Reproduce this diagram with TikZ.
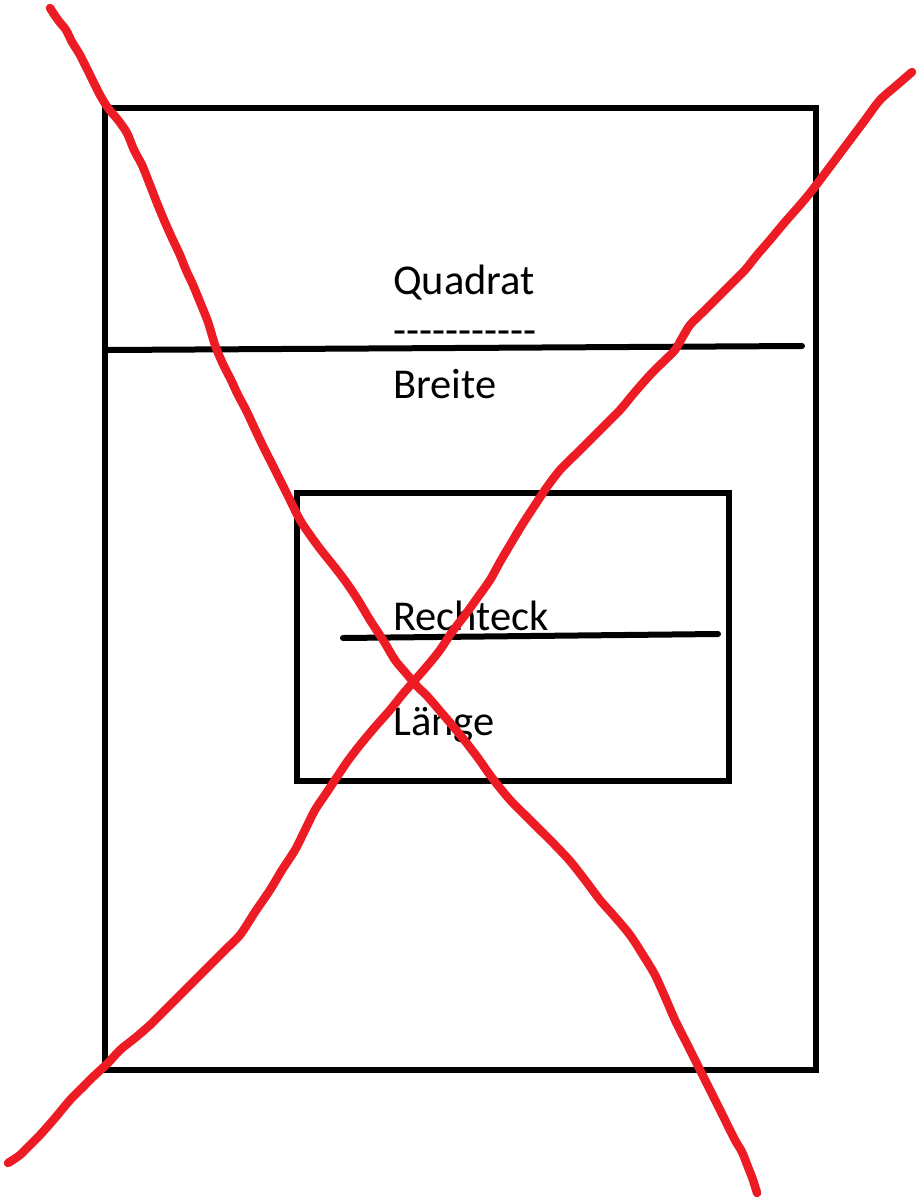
\documentclass[tikz,border=0pt]{standalone}
\usepackage{fontspec}
\setmainfont{Carlito}
\definecolor{pred}{HTML}{ED1C24}
\tikzset{
  blk/.style={line width=6pt, draw=black, line cap=round, line join=miter},
  redx/.style={line width=8.5pt, draw=pred, line cap=round, line join=round},
  lbl/.style={anchor=base west, inner sep=0pt, font=\fontsize{42.5}{50}\selectfont}
}
\begin{document}
\begin{tikzpicture}[x=1pt,y=-1pt]
\useasboundingbox (0,0) rectangle (917,1201);
% outer square
\draw[blk, line cap=butt] (105,108) rectangle (816,1070);
\draw[blk] (108,350) -- (802,346);
% inner rectangle
\draw[blk, line cap=butt] (297,493) rectangle (729,781);
\draw[blk] (343,638) -- (718,634);
% texts
\node[lbl] (quadrat) at (393,294) {Quadrat};
\node[lbl] (dashes) at (393,344) {-{}-{}-{}-{}-{}-{}-{}-{}-{}-{}-};
\node[lbl] (breite) at (393,398) {Breite};
\node[lbl] (rechteck) at (393,630) {Rechteck};
\node[lbl] (laenge) at (393,735) {Länge};
% red cross
\draw[redx] plot[smooth, tension=0.5] coordinates {
 (50,8) (58,20) (66,30) (72,42) (80,55) (90,75) (100,95) (108,108) (118,120) (127,133)
 (134,150) (142,165) (150,185) (157,203) (164,220) (172,238) (180,255) (186,270)
 (193,285) (200,302) (208,322) (215,345) (222,362) (231,380) (238,395) (246,410)
 (253,425) (261,442) (270,460) (280,480) (290,500) (300,520) (310,535) (321,550)
 (333,565) (346,582) (358,600) (370,620) (383,640) (395,660) (405,672) (416,685)
 (428,697) (440,711) (452,725) (465,741) (478,758) (490,775) (500,788) (511,801)
 (525,815) (540,830) (555,845) (570,861) (585,880) (600,900) (615,917) (630,935)
 (643,955) (655,975) (665,997) (675,1020) (685,1040) (695,1060) (705,1080) (715,1100)
 (725,1120) (735,1140) (742,1152) (748,1167) (753,1180) (757,1193)};
\draw[redx] plot[smooth, tension=0.5] coordinates {
 (912,72) (897,85) (880,100) (865,120) (850,140) (835,160) (820,180) (810,193)
 (800,205) (785,222) (770,240) (757,255) (745,270) (730,285) (715,300) (702,313)
 (690,325) (682,338) (675,350) (662,363) (650,375) (635,392) (620,410) (605,425)
 (590,440) (575,455) (560,470) (547,487) (535,505) (522,525) (510,545) (500,562)
 (490,580) (478,597) (465,615) (452,632) (440,650) (428,665) (415,680) (402,695)
 (390,710) (375,727) (360,745) (347,762) (335,780) (325,795) (315,810) (305,830)
 (295,850) (282,870) (270,890) (255,912) (240,935) (225,950) (210,965) (195,980)
 (180,995) (165,1010) (150,1025) (135,1038) (120,1050) (108,1063) (95,1075)
 (82,1088) (70,1100) (55,1118) (40,1135) (30,1145) (20,1155) (8,1163)};
\end{tikzpicture}
\end{document}
